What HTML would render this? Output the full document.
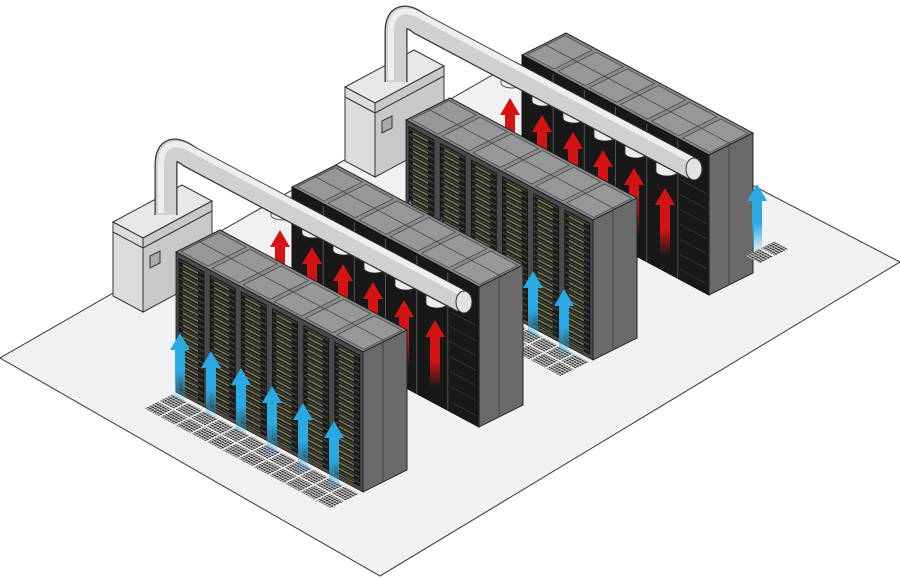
<!DOCTYPE html>
<html><head><meta charset="utf-8"><style>html,body{margin:0;padding:0;background:#fff}svg{display:block}</style></head>
<body>
<svg width="900" height="578" viewBox="0 0 900 578" xmlns="http://www.w3.org/2000/svg">
<defs>
<pattern id="grille" patternUnits="userSpaceOnUse" width="31.17" height="6">
<rect width="31.17" height="6" fill="#1b1b1b"/>
<rect width="31.17" height="1.3" fill="#4a4a4a"/>
<rect x="7" y="2.6" width="15" height="1.6" fill="#85854c"/>
</pattern>
<pattern id="vent" patternUnits="userSpaceOnUse" width="2.6" height="2.6">
<rect width="2.6" height="2.6" fill="#eee"/>
<rect width="2.2" height="1.8" fill="#3a3a3a"/>
</pattern>
<linearGradient id="bg" x1="0" y1="0" x2="0" y2="1">
<stop offset="0" stop-color="#2aa9e2"/><stop offset="0.55" stop-color="#2aa9e2"/><stop offset="1" stop-color="#2aa9e2" stop-opacity="0"/>
</linearGradient>
<linearGradient id="rg" x1="0" y1="0" x2="0" y2="1">
<stop offset="0" stop-color="#d41414"/><stop offset="0.6" stop-color="#d41414"/><stop offset="1" stop-color="#d41414" stop-opacity="0"/>
</linearGradient>
<path id="ba" d="M0,0 L10,17 L5,17 L5,70 L-5,70 L-5,17 L-10,17 Z" fill="url(#bg)"/>
<path id="ra" d="M0,0 L10,17 L5,17 L5,68 L-5,68 L-5,17 L-10,17 Z" fill="url(#rg)"/>

<g id="top">
<polygon points="0,0 187,100 231,78 44,-22" fill="#8a8a8a" stroke="#222" stroke-width="1"/>
<g transform="matrix(1,0.535,1,-0.5,0,0)" stroke="#444" stroke-width="0.8" fill="#979797">
<rect x="2" y="3" width="27" height="38"/><rect x="33.2" y="3" width="27" height="38"/><rect x="64.3" y="3" width="27" height="38"/>
<rect x="95.5" y="3" width="27" height="38"/><rect x="126.7" y="3" width="27" height="38"/><rect x="157.8" y="3" width="27" height="38"/>
<line x1="0" y1="22" x2="187" y2="22"/>
</g>
</g>
<g id="side">
<polygon points="187,100 231,78 231,218 187,240" fill="#6a6a6a" stroke="#222" stroke-width="1"/>
<line x1="207" y1="90" x2="207" y2="230" stroke="#444"/>
</g>

<g id="rowF">
<use href="#top"/>
<g transform="matrix(1,0.535,0,1,0,0)" stroke="#111" stroke-width="0.8">
<rect x="0" y="0" width="187" height="140" fill="#4a4a4a"/>
<rect x="3" y="5" width="25" height="131" fill="url(#grille)"/>
<rect x="34.2" y="5" width="25" height="131" fill="url(#grille)"/>
<rect x="65.3" y="5" width="25" height="131" fill="url(#grille)"/>
<rect x="96.5" y="5" width="25" height="131" fill="url(#grille)"/>
<rect x="127.7" y="5" width="25" height="131" fill="url(#grille)"/>
<rect x="158.8" y="5" width="25" height="131" fill="url(#grille)"/>
</g>
<use href="#side"/>
</g>

<g id="rowB">
<use href="#top"/>
<g transform="matrix(1,0.535,0,1,0,0)" stroke="#555" stroke-width="1">
<rect x="0" y="0" width="187" height="140" fill="#181818" stroke="#111"/>
<line x1="31.2" y1="2" x2="31.2" y2="140"/><line x1="62.3" y1="2" x2="62.3" y2="140"/>
<line x1="93.5" y1="2" x2="93.5" y2="140"/><line x1="124.7" y1="2" x2="124.7" y2="140"/>
<line x1="155.8" y1="2" x2="155.8" y2="140"/>
<g stroke="#333"><line x1="158" y1="40" x2="185" y2="40"/><line x1="158" y1="55" x2="185" y2="55"/><line x1="158" y1="70" x2="185" y2="70"/><line x1="158" y1="85" x2="185" y2="85"/><line x1="158" y1="100" x2="185" y2="100"/><line x1="158" y1="115" x2="185" y2="115"/><line x1="158" y1="130" x2="185" y2="130"/></g>
</g>
<use href="#side"/>
</g>

<g id="vents" transform="matrix(1,0.535,-1,0.5,0,140)">
<g fill="url(#vent)">
<rect x="1" y="4" width="14" height="13"/><rect x="16.6" y="4" width="14" height="13"/>
<rect x="32.2" y="4" width="14" height="13"/><rect x="47.8" y="4" width="14" height="13"/>
<rect x="63.4" y="4" width="14" height="13"/><rect x="79" y="4" width="14" height="13"/>
<rect x="94.6" y="4" width="14" height="13"/><rect x="110.2" y="4" width="14" height="13"/>
<rect x="125.8" y="4" width="14" height="13"/><rect x="141.4" y="4" width="14" height="13"/>
<rect x="157" y="4" width="14" height="13"/><rect x="172.6" y="4" width="14" height="13"/>
<rect x="1" y="19" width="14" height="13"/><rect x="16.6" y="19" width="14" height="13"/>
<rect x="32.2" y="19" width="14" height="13"/><rect x="47.8" y="19" width="14" height="13"/>
<rect x="63.4" y="19" width="14" height="13"/><rect x="79" y="19" width="14" height="13"/>
<rect x="94.6" y="19" width="14" height="13"/><rect x="110.2" y="19" width="14" height="13"/>
<rect x="125.8" y="19" width="14" height="13"/><rect x="141.4" y="19" width="14" height="13"/>
<rect x="157" y="19" width="14" height="13"/><rect x="172.6" y="19" width="14" height="13"/>
</g>
</g>

<g id="unit">
<polygon points="113,222 182,185 212,201 143,238" fill="#e8e8e8" stroke="#333"/>
<polygon points="113,222 143,238 143,312 113,296" fill="#dcdcdc" stroke="#333"/>
<polygon points="143,238 212,201 212,275 143,312" fill="#c8c8c8" stroke="#333"/>
<polyline points="113,232 143,248 212,211" fill="none" stroke="#333"/>
<polygon points="150,256 160,251 160,263 150,268" fill="#aaa" stroke="#333"/>
</g>

<g id="pipe">
<path d="M166,215 L166,165 C166,145 178,148 190,157 L463,302" fill="none" stroke="#333" stroke-width="23"/>
<path d="M166,215 L166,165 C166,145 178,148 190,157 L463,302" fill="none" stroke="#d0d0d0" stroke-width="20.5"/>
<path d="M161,213 L161,165 C161,141 178,141 193,150 L466,295" fill="none" stroke="#eeeeee" stroke-width="6"/>
<ellipse cx="464" cy="302" rx="8" ry="11" fill="#e2e2e2" stroke="#333"/>
</g>

<g id="drops" fill="#eee" stroke="#333" stroke-width="0.8">
<path d="M271,205 L271,215 A11,5 0 0 0 293,215 L293,205 Z"/>
<path d="M302,223 L302,233 A11,5 0 0 0 324,233 L324,223 Z"/>
<path d="M333,240 L333,250 A11,5 0 0 0 355,250 L355,240 Z"/>
<path d="M364,258 L364,268 A11,5 0 0 0 386,268 L386,258 Z"/>
<path d="M395,275 L395,285 A11,5 0 0 0 417,285 L417,275 Z"/>
<path d="M426,293 L426,303 A11,5 0 0 0 448,303 L448,293 Z"/>
</g>
<g id="reds">
<use href="#ra" x="280" y="230"/><use href="#ra" x="312" y="247"/><use href="#ra" x="343" y="264"/>
<use href="#ra" x="373" y="282"/><use href="#ra" x="404" y="300"/><use href="#ra" x="435" y="320"/>
</g>
<g id="blues">
<use href="#ba" x="180" y="333"/><use href="#ba" x="211" y="351"/><use href="#ba" x="241" y="368"/>
<use href="#ba" x="272" y="386"/><use href="#ba" x="303" y="403"/><use href="#ba" x="334" y="421"/>
</g>
</defs>

<polygon points="0,358 515,62 900,262 380,576" fill="#f1f1f1" stroke="#333" stroke-width="1"/>

<use href="#unit" transform="translate(232,-135)"/>
<use href="#rowB" transform="translate(522,55)"/>
<use href="#drops" transform="translate(230,-132)"/>
<use href="#reds" transform="translate(230,-132)"/>
<use href="#pipe" transform="translate(230,-133)"/>
<g transform="translate(755,247) matrix(1,0.535,-1,0.5,0,0)"><rect x="4" y="0" width="14" height="13" fill="url(#vent)"/><rect x="4" y="-15" width="14" height="13" fill="url(#vent)"/></g>
<use href="#ba" x="757" y="184"/>
<use href="#vents" transform="translate(406,120)"/>
<use href="#rowF" transform="translate(406,120)"/>
<use href="#blues" transform="translate(230,-132)"/>

<use href="#unit"/>
<use href="#rowB" transform="translate(292,187)"/>
<use href="#drops"/>
<use href="#reds"/>
<use href="#pipe"/>
<use href="#vents" transform="translate(176,252)"/>
<use href="#rowF" transform="translate(176,252)"/>
<use href="#blues"/>
</svg>
</body></html>
